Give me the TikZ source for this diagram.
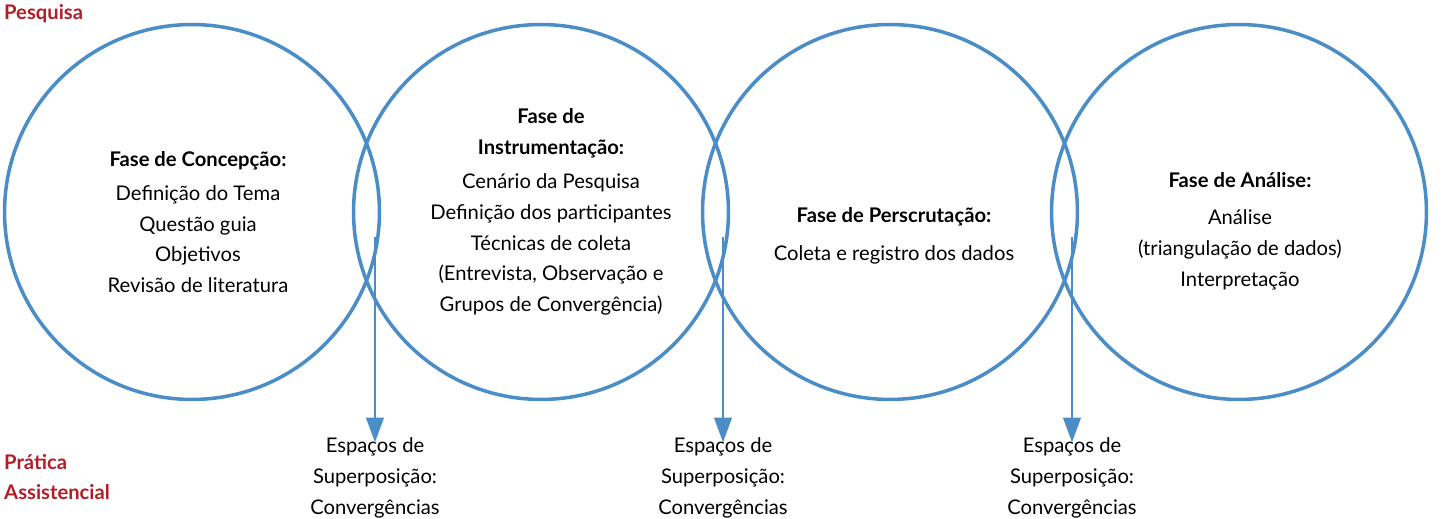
\documentclass[tikz,border=0pt]{standalone}
\usepackage{fontspec}
\setmainfont{Lato}
\usetikzlibrary{arrows.meta}
\definecolor{azul}{RGB}{74,141,199}
\definecolor{verm}{RGB}{178,30,40}
\tikzset{fase/.style={circle, draw=azul, line width=2pt, minimum size=7.5cm},
txt/.style={align=center, font=\fontsize{11.5}{17.5}\selectfont},
titulo/.style={font=\fontsize{11.5}{17.5}\selectfont\bfseries, text=verm, anchor=west},
seta/.style={draw=azul, line width=1.3pt, -{Triangle[width=10pt,length=14pt]}}}
\begin{document}
\begin{tikzpicture}[x=0.02cm,y=-0.02cm]
\useasboundingbox (0,0) rectangle (1445,519);
\node (c1) [fase] at (192,212) {};
\node (c2) [fase] at (541,212) {};
\node (c3) [fase] at (890,212) {};
\node (c4) [fase] at (1239,212) {};
\node (t1) [txt] at (198,222) {\textbf{Fase de Concepção:}\\[2pt]Definição do Tema\\Questão guia\\Objetivos\\Revisão de literatura};
\node (t2) [txt] at (551,212) {\textbf{Fase de}\\\textbf{Instrumentação:}\\[2pt]Cenário da Pesquisa\\Definição dos participantes\\Técnicas de coleta\\(Entrevista, Observação e\\Grupos de Convergência)};
\node (t3) [txt] at (894,236) {\textbf{Fase de Perscrutação:}\\[4pt]Coleta e registro dos dados};
\node (t4) [txt] at (1240,231) {\textbf{Fase de Análise:}\\[4pt]Análise\\(triangulação de dados)\\Interpretação};
\node (pq) [titulo] at (-2,14) {Pesquisa};
\node (pa) [titulo, align=left] at (-2,477) {Prática\\Assistencial};
\foreach \x/\n in {375/a,723/b,1072/c}{
\coordinate (s\n) at (\x,237);
\node (e\n) [txt] at (\x,478) {Espaços de\\Superposição:\\Convergências};
\draw [seta] (s\n) -- ([yshift=-6pt]e\n.north);
}
\end{tikzpicture}
\end{document}
